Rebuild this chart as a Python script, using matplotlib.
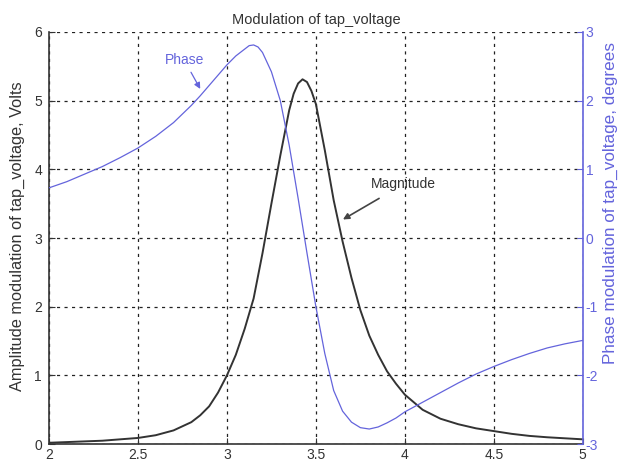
import matplotlib
matplotlib.use("Agg")
import matplotlib.pyplot as plt

plt.rcParams['font.family'] = ['Liberation Sans', 'DejaVu Sans']
plt.rcParams['axes.unicode_minus'] = False

# ---- data ----
mag_x = [2.0, 2.1, 2.2, 2.3, 2.4, 2.5, 2.6, 2.7, 2.8, 2.85, 2.9, 2.95, 3.0, 3.05,
         3.1, 3.15, 3.2, 3.25, 3.3, 3.35, 3.375, 3.4, 3.425, 3.45, 3.475, 3.5,
         3.55, 3.6, 3.65, 3.7, 3.75, 3.8, 3.85, 3.9, 3.95, 4.0, 4.1, 4.2, 4.3,
         4.4, 4.5, 4.6, 4.7, 4.8, 4.9, 5.0]
mag_y = [0.02, 0.03, 0.04, 0.05, 0.07, 0.09, 0.13, 0.20, 0.32, 0.42, 0.55, 0.75,
         1.00, 1.30, 1.68, 2.12, 2.78, 3.50, 4.20, 4.86, 5.10, 5.25, 5.31, 5.27,
         5.14, 4.95, 4.28, 3.55, 2.95, 2.42, 1.95, 1.58, 1.30, 1.06, 0.88, 0.72,
         0.50, 0.37, 0.29, 0.23, 0.19, 0.15, 0.12, 0.10, 0.085, 0.07]

ph_x = [2.0, 2.1, 2.2, 2.3, 2.4, 2.5, 2.6, 2.7, 2.8, 2.85, 2.9, 2.95, 3.0, 3.05,
        3.1, 3.125, 3.15, 3.175, 3.2, 3.25, 3.3, 3.35, 3.4, 3.45, 3.5, 3.55,
        3.6, 3.65, 3.7, 3.75, 3.8, 3.85, 3.9, 3.95, 4.0, 4.1, 4.2, 4.3, 4.4,
        4.5, 4.6, 4.7, 4.8, 4.9, 5.0]
ph_y = [0.73, 0.82, 0.93, 1.04, 1.17, 1.31, 1.48, 1.68, 1.93, 2.07, 2.22, 2.37,
        2.52, 2.65, 2.75, 2.80, 2.81, 2.78, 2.70, 2.42, 2.00, 1.35, 0.58, -0.22,
        -1.00, -1.68, -2.22, -2.52, -2.68, -2.76, -2.78, -2.75, -2.69, -2.62,
        -2.53, -2.39, -2.25, -2.11, -1.98, -1.87, -1.77, -1.68, -1.60, -1.54,
        -1.49]

x_ticks = [2, 2.5, 3, 3.5, 4, 4.5, 5]
x_tick_labels = ['2', '2.5', '3', '3.5', '4', '4.5', '5']
left_ticks = [0, 1, 2, 3, 4, 5, 6]
right_ticks = [-3, -2, -1, 0, 1, 2, 3]

title = 'Modulation of tap_voltage'
left_label = 'Amplitude modulation of tap_voltage, Volts'
right_label = 'Phase modulation of tap_voltage, degrees'

dark = '#333333'
blue = '#6464dc'

fig = plt.figure(figsize=(6.2, 4.69), dpi=100)
ax = fig.add_axes([0.079, 0.053, 0.861, 0.879])
ax2 = ax.twinx()

ax.plot(mag_x, mag_y, color=dark, lw=1.4, zorder=3)
ax2.plot(ph_x, ph_y, color=blue, lw=0.9, zorder=3)

ax.set_xlim(2, 5)
ax.set_ylim(0, 6)
ax2.set_ylim(-3, 3)
ax.set_xticks(x_ticks)
ax.set_xticklabels(x_tick_labels)
ax.set_yticks(left_ticks)
ax2.set_yticks(right_ticks)

ax.grid(True, color='#222222', linestyle=(0, (2.5, 3.5)), linewidth=0.9)

for s in ['top', 'right']:
    ax.spines[s].set_visible(False)
ax.spines['left'].set_color(dark)
ax.spines['bottom'].set_color(dark)
ax.spines['left'].set_linewidth(1.2)
ax.spines['bottom'].set_linewidth(1.2)
ax2.spines['top'].set_visible(False)
ax2.spines['left'].set_visible(False)
ax2.spines['bottom'].set_visible(False)
ax2.spines['right'].set_color(blue)
ax2.spines['right'].set_linewidth(1.2)

ax.tick_params(axis='both', direction='in', length=4, colors=dark, labelsize=10, pad=3)
ax.tick_params(axis='y', pad=5)
ax2.tick_params(axis='y', direction='in', length=4, colors=blue, labelcolor=blue,
                labelsize=10, pad=2)

ax.set_title(title, fontsize=10.5, color=dark, pad=6)
fig.text(17 / 620, 1 - 236 / 469, left_label, rotation=90, ha='center',
         va='center', fontsize=11.8, color=dark)
fig.text(610 / 620, 1 - 203 / 469, right_label, rotation=90, ha='center',
         va='center', fontsize=12.3, color=blue)

# annotations
ax2.annotate('Phase', xy=(2.85, 2.17), xytext=(2.76, 2.59), color=blue,
             fontsize=10, ha='center', va='center',
             arrowprops=dict(arrowstyle='-|>', color=blue, lw=0.9,
                             shrinkA=2, shrinkB=0, mutation_scale=9))
ax.annotate('Magnitude', xy=(3.652, 3.27), xytext=(3.99, 3.78), color=dark,
            fontsize=10, ha='center', va='center',
            arrowprops=dict(arrowstyle='-|>', color='#444444', lw=1.2,
                            shrinkA=6, shrinkB=0, mutation_scale=9))

fig.savefig('out.png', dpi=100)
